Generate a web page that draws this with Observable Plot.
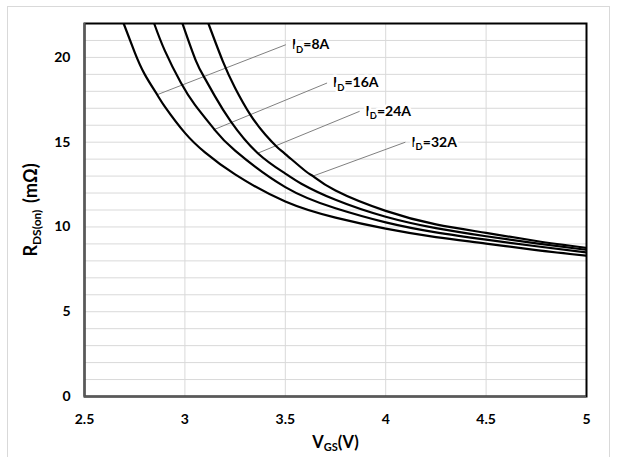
<!DOCTYPE html>
<html><head><meta charset="utf-8">
<script src="https://cdn.jsdelivr.net/npm/d3@7"></script>
<script src="https://cdn.jsdelivr.net/npm/@observablehq/plot@0.6"></script>
<style>
html,body{margin:0;padding:0;background:#fff;}
#wrap{position:relative;width:617px;height:457px;overflow:hidden;background:#fff;}
#border{position:absolute;left:7px;top:6px;width:603px;height:470px;border:1px solid #d9d9d9;box-sizing:border-box;}
#chart{position:absolute;left:0;top:0;}
</style></head><body>
<div id="wrap"><div id="border"></div><div id="chart"></div></div>
<script>
// ---- data ----
const currents = ["8A", "16A", "24A", "32A"];
const vgs8  = [2.695, 2.75, 2.8, 2.862, 2.9, 3.0, 3.1, 3.25, 3.5, 3.75, 4.0, 4.25, 4.5, 4.75, 5.0];
const rds8  = [22, 20.3, 19.0, 17.8, 17.1, 15.55, 14.4, 13.1, 11.5, 10.55, 9.9, 9.4, 9.02, 8.63, 8.3];
const vgs16 = [2.847, 2.9, 2.98, 3.05, 3.147, 3.25, 3.5, 3.75, 4.0, 4.25, 4.5, 4.75, 5.0];
const rds16 = [22, 20.4, 18.5, 17.2, 15.75, 14.5, 12.35, 11.1, 10.27, 9.68, 9.25, 8.86, 8.5];
const vgs24 = [2.988, 3.055, 3.1, 3.15, 3.23, 3.363, 3.5, 3.58, 3.75, 4.0, 4.25, 4.5, 4.75, 5.0];
const rds24 = [22, 19.8, 18.75, 17.7, 16.2, 14.35, 13.15, 12.55, 11.6, 10.6, 9.93, 9.45, 9.03, 8.65];
const vgs32 = [3.117, 3.188, 3.25, 3.327, 3.4, 3.46, 3.5, 3.6, 3.638, 3.75, 4.0, 4.25, 4.5, 4.75, 5.0];
const rds32 = [22, 19.8, 18.2, 16.6, 15.45, 14.7, 14.3, 13.3, 13.0, 12.15, 10.95, 10.15, 9.65, 9.17, 8.76];

// annotation leaders: start on curve, end at label
const leadV  = [2.862, 3.147, 3.363, 3.638];
const leadR  = [17.8, 15.75, 14.35, 13.0];
const labelV = [3.503, 3.708, 3.870, 4.098];
const labelR = [20.75, 18.49, 16.82, 15.0];

const xTicks = [2.5, 3, 3.5, 4, 4.5, 5];
const yTicks = [0, 5, 10, 15, 20];
const yGrid  = [1,2,3,4,5,6,7,8,9,10,11,12,13,14,15,16,17,18,19,20,21];
const xLabel = ["V", "GS", "(V)"];
const yLabel = ["R", "DS(on)", " (mΩ)"];

// ---- build table ----
const series = [[vgs8, rds8], [vgs16, rds16], [vgs24, rds24], [vgs32, rds32]];
const rows = [];
series.forEach(([vs, rs], i) => vs.forEach((v, j) => rows.push({id: currents[i], v, r: rs[j]})));
const notes = currents.map((c, i) => ({
  text: "ID=" + c, x1: leadV[i], y1: leadR[i], x2: labelV[i], y2: labelR[i]
}));

const plot = Plot.plot({
  width: 617,
  height: 457,
  marginLeft: 84,
  marginRight: 31,
  marginTop: 23,
  marginBottom: 61,
  style: {fontFamily: "Lato, 'Open Sans', sans-serif", fontSize: "14px", fontWeight: "bold", color: "#000", background: "transparent"},
  x: {domain: [2.5, 5], range: [84, 586]},
  y: {domain: [0, 22]},
  marks: [
    Plot.gridY(yGrid, {stroke: "#d9d9d9", strokeOpacity: 1, strokeWidth: 1}),
    Plot.gridX(xTicks, {stroke: "#d9d9d9", strokeOpacity: 1, strokeWidth: 1}),
    Plot.axisX({ticks: xTicks, tickFormat: d => String(d), tickSize: 0, tickPadding: 18, label: xLabel.join(""), labelArrow: "none", labelAnchor: "center", labelOffset: 51, fontWeight: "bold"}),
    Plot.axisY({ticks: yTicks, tickFormat: d => String(d), tickSize: 0, tickPadding: 14, label: yLabel.join(""), labelArrow: "none", labelAnchor: "center", labelOffset: 57, fontWeight: "bold"}),
    Plot.link(notes, {x1: "x1", y1: "y1", x2: "x2", y2: "y2", stroke: "#808080", strokeWidth: 1}),
    Plot.line(rows, {x: "v", y: "r", z: "id", stroke: "#000", strokeWidth: 2.2, curve: "natural", clip: true}),
    Plot.text(notes, {x: "x2", y: "y2", text: "text", textAnchor: "start", lineAnchor: "middle", dx: 6, fill: "#000", stroke: "#fff", strokeWidth: 5, fontSize: 14, fontWeight: "bold"}),
    Plot.frame({stroke: "#000", strokeWidth: 2}),
    Plot.ruleX([2.5], {stroke: "#595959", strokeWidth: 2}),
    Plot.ruleY([0], {stroke: "#595959", strokeWidth: 2})
  ]
});
document.getElementById("chart").appendChild(plot);

// ---- subscripts as real tspans ----
function withSub(textEl, main, sub, rest, size, subSize, shift) {
  textEl.textContent = "";
  const ns = "http://www.w3.org/2000/svg";
  const a = document.createElementNS(ns, "tspan"); a.textContent = main; a.style.fontSize = size + "px";
  const b = document.createElementNS(ns, "tspan"); b.textContent = sub; b.style.fontSize = subSize + "px"; b.setAttribute("dy", shift);
  const c = document.createElementNS(ns, "tspan"); c.textContent = rest; c.style.fontSize = size + "px"; c.setAttribute("dy", -shift);
  textEl.append(a, b, c);
}
const svg = d3.select(plot);
svg.selectAll("text").each(function() {
  const s = this.textContent.replace(/[\u2190-\u2193]/g, "").trim();
  if (s.startsWith("ID=")) {
    withSub(this, "I", "D", s.slice(2), 14, 9.5, 3.5);
  } else if (s === xLabel.join("")) {
    withSub(this, xLabel[0], xLabel[1], xLabel[2], 16.5, 11, 3.5);
  } else if (s === yLabel.join("").trim()) {
    withSub(this, yLabel[0], yLabel[1], "\u2009" + yLabel[2], 18, 12, 4);
  }
});
</script>
</body></html>
